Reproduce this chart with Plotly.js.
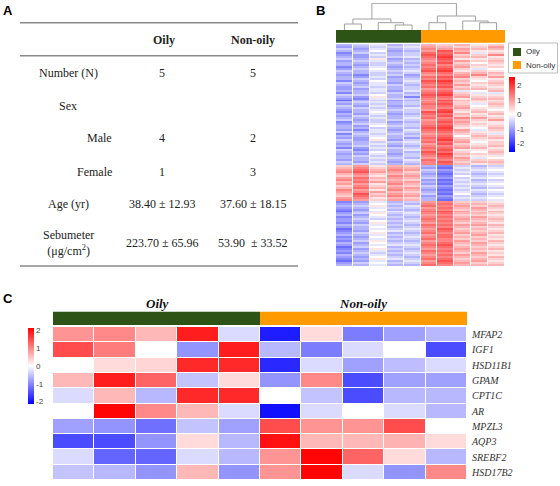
<!DOCTYPE html>
<html><head><meta charset="utf-8">
<script src="https://cdn.plot.ly/plotly-3.0.1.min.js"></script>
<style>html,body{margin:0;padding:0;background:#fff}#chart{width:560px;height:486px}</style>
</head><body><div id="chart"></div>
<script>
// ---------- Panel A: table ----------
const tableHeaders = ["Oily", "Non-oily"];
const tableRowLabels = ["Number (N)", "Sex", "Male", "Female", "Age (yr)", "Sebumeter<br>(μg/cm<sup>2</sup>)"];
const tableOily = ["5", "", "4", "1", "38.40 ± 12.93", "223.70 ± 65.96"];
const tableNonOily = ["5", "", "2", "3", "37.60 ± 18.15", "53.90 \u00a0± 33.52"];

// ---------- Samples / groups ----------
const samples = ["O1", "O2", "O3", "O4", "O5", "N1", "N2", "N3", "N4", "N5"];
const sampleGroup = [0, 0, 0, 0, 0, 1, 1, 1, 1, 1];
const groupNames = ["Oily", "Non-oily"];

// ---------- Panel B: clustered heatmap (levels A=-2 ... Q=+2, step 0.25) ----------
// each sample: [upper block, middle block, lower block]
const sampleO1 = ["FEGFDEFGEF FDEGFEFFDG FEEFDGFECF EGFEDFEFGD EFFEGDFEGF EFDGFEFFEGF",
                  "KLMNLKMNLM KLNMLKMN",
                  "DEFEDCEFDE EDFECDEFDE DFECDEDFEDCEF"];
const sampleO2 = ["GFEFGEEFGF EFGFFDEGFE FGEFFGEDFG FEGFFEGFEF GEFDFGFEEF FGEDFEGFFEG",
                  "MNOPNMONOM NOMNPONM",
                  "EFGFEFGEFG FEGFFEGFEF GEFGEFGFEFEGF"];
const sampleO3 = ["HGHIGHGJHG GHIHGGHGIH HGHHGIJHGH GHGHIHGHGG HIGHHGHIJG HGHGIHGHGHG",
                  "JKLMKJLKMJ KLJMKLJK",
                  "HIJHIHJIHG IJHIHIJHIH JIHIJHGHIJHIH"];
const sampleO4 = ["FGFEFFGEFG FEFGFGEFFE GFFEGFFGEF FEFGFEFFGE FGFEFGFFEG FEGFFEFGFEF",
                  "LMNMLNMLMN LMNLMNLM",
                  "FGFGFHGFGF GFGFGHFGFG FGHFGFGFGHFGF"];
const sampleO5 = ["GHGFGGHFGF GFGHGEFGHG FGGHFGDGFG GFHGGFGHGF GGFHGFGEGH GFGHFGGFHGF",
                  "KLMKLMLKML KMLKLMKL",
                  "GFHGFGHGFG HGFGHGFGHG FGHGFGHGFGHGF"];
const sampleN1 = ["LMNMOPONMN ONOPNMONPO NOMNOPONMN ONNMPONOMN NOPONMNONO MNONPONMONN",
                  "FEGFEFGEFE GFEFGEFF",
                  "MNOMNONMNO NMONMNOMNO MNONMONMNOMNO"];
const sampleN2 = ["KLMPOPQPOP NOPQONPOQP OPNOPQONPO PONPQOPNOP OPQPONOPQO PNOPOQPONPO",
                  "DCEDCDECDC EDCDCEDC",
                  "NONONPONON ONONPONOON NOPONONONOPON"];
const sampleN3 = ["LKMLNKLJMK LMKJLMNKLK MKLHKLMJLK KLMKJLKNLM LKJMLKIKLM KLMJKLKMLKL",
                  "GHGHGIGHGH GHGHIGHG",
                  "KLMLKMLKLM LKMLKLMKLK MLKLMLKMLKLML"];
const sampleN4 = ["JKLJHKLJKI KJHKLNKJIK JKLIHJKLKJ HIJKLJKMKJ KJIHJKLKJI JKLJIKJHKLJ",
                  "FGHGFGHFGH GFHGFGHG",
                  "KLKMLKLKML KLMKLKLMKL KMLKLKMLKLMKL"];
const sampleN5 = ["KMLJKNJKLK JKIJLKMJKL KJKLHJKLJK LKJIKLJKMJ JKLKJHKLJK KLJKLKJIKLK",
                  "GHIHGHIGHI HGIHGHIH",
                  "JKLKJLKJKL KJLKJKLJKJ LKJKLJKJLKJKL"];
const heatBColumns = [sampleO1, sampleO2, sampleO3, sampleO4, sampleO5,
                      sampleN1, sampleN2, sampleN3, sampleN4, sampleN5];

// Column dendrogram (scipy-like linkage: childA, childB, height)
const linkage = [
  [0, 1, 6], [3, 4, 5], [2, 11, 7.3], [10, 12, 11],
  [5, 6, 7.3], [8, 9, 7.3], [7, 15, 9], [14, 16, 14],
  [13, 17, 26.7]
];

// ---------- Panel C: selected genes ----------
const genes = ["MFAP2", "IGF1", "HSD11B1", "GPAM", "CPT1C", "AR", "MPZL3", "AQP3", "SREBF2", "HSD17B2"];
const geneZ = [
  [0.9, 1.0, 0.6, 1.9, -0.3, -1.9, 0.3, -1.1, -0.8, -0.6],
  [1.5, 1.1, 0.0, -0.9, 1.9, -0.6, -1.1, -0.3, 0.0, -1.5],
  [0.0, 0.3, 0.35, 1.8, 1.8, -1.8, -0.3, -0.8, -0.55, -0.3],
  [0.6, 1.9, 1.3, -0.5, 0.3, -0.9, 1.0, -1.5, -0.8, -0.8],
  [-0.3, 0.6, -0.6, 1.8, 1.8, 0.0, -0.5, -1.5, -0.6, -0.6],
  [0.0, 2.1, 1.0, 0.6, -0.3, -2.0, -0.3, 0.0, -0.3, -0.6],
  [-0.8, -0.9, -1.2, -0.5, -0.8, 1.5, 0.9, 0.9, 1.5, 0.0],
  [-1.5, -1.5, -0.9, 0.3, -0.6, 2.0, 0.6, 0.6, 0.65, 0.3],
  [-0.3, -1.3, -1.3, -0.3, -0.6, 0.9, 2.1, 1.3, 0.3, -0.6],
  [-0.5, -0.6, -0.9, 0.6, -0.9, 0.9, 2.1, -0.3, -0.9, 1.0]
];
const colorTicks = [-2, -1, 0, 1, 2];

// ================= build =================
const W = 560, H = 486;
const X = px => px / W;
const Y = py => 1 - py / H;
const GREEN = "#2d5416", ORANGE = "#ff9a00";
const SERIF = "Liberation Serif, Times New Roman, serif";
const SANS = "Liberation Sans, Arial, sans-serif";
const RWB = [[0, "#0000ff"], [0.5, "#ffffff"], [1, "#ff0000"]];

const LEVELS = "ABCDEFGHIJKLMNOPQR";
const decode = s => s.replace(/\s/g, "").split("").map(c => LEVELS.indexOf(c) * 0.25 - 2);

const zB = [];
for (let b = 0; b < 3; b++) {
  const cols = heatBColumns.map(c => decode(c[b]));
  const n = Math.min(...cols.map(c => c.length));
  for (let r = 0; r < n; r++) zB.push(cols.map(c => c[r]));
}
const idx = samples.map((_, i) => i);
const rowIdx = zB.map((_, i) => i);

// dendrogram coordinates
const nodeX = idx.slice(), nodeH = idx.map(() => 0);
const dx = [], dy = [];
linkage.forEach(([a, b, h]) => {
  dx.push(nodeX[a], nodeX[a], nodeX[b], nodeX[b], null);
  dy.push(nodeH[a], h, h, nodeH[b], null);
  nodeX.push((nodeX[a] + nodeX[b]) / 2);
  nodeH.push(h);
});

const cbCommon = {
  thickness: 6, thicknessmode: "pixels", lenmode: "pixels",
  outlinewidth: 0, ticks: "", xpad: 0, ypad: 0, xanchor: "left", yanchor: "top",
  tickvals: colorTicks, ticktext: colorTicks.map(String),
  tickfont: { family: SANS, size: 8, color: "#444" }
};

const traces = [
  { type: "heatmap", z: zB, x: idx, y: rowIdx, xaxis: "x", yaxis: "y",
    colorscale: RWB, zmin: -2.6, zmax: 2.6, xgap: 1, hoverinfo: "skip",
    colorbar: Object.assign({}, cbCommon, { x: X(509), y: Y(77), len: 75 }) },
  { type: "heatmap", z: [sampleGroup], x: idx, xaxis: "x2", yaxis: "y2",
    colorscale: [[0, GREEN], [1, ORANGE]], zmin: 0, zmax: 1, showscale: false, hoverinfo: "skip" },
  { type: "scatter", mode: "lines", x: dx, y: dy, xaxis: "x3", yaxis: "y3",
    line: { color: "#a0a0a0", width: 1 }, hoverinfo: "skip", showlegend: false },
  { type: "heatmap", z: [sampleGroup], x: idx, xaxis: "x4", yaxis: "y4",
    colorscale: [[0, GREEN], [1, ORANGE]], zmin: 0, zmax: 1, showscale: false, hoverinfo: "skip" },
  { type: "heatmap", z: geneZ, x: idx, y: genes, xaxis: "x5", yaxis: "y5",
    colorscale: RWB, zmin: -2.14, zmax: 2.14, xgap: 1, ygap: 1, hoverinfo: "skip",
    colorbar: Object.assign({}, cbCommon, { x: X(28), y: Y(328), len: 76 }) }
];

const hid = { visible: false, fixedrange: true };
const xB = [X(336), X(505)], xC = [X(53), X(467)];
const layout = {
  width: W, height: H, margin: { l: 0, r: 0, t: 0, b: 0 },
  paper_bgcolor: "#fff", plot_bgcolor: "rgba(0,0,0,0)", showlegend: false,
  xaxis: Object.assign({ domain: xB, range: [-0.5, 9.5], anchor: "y" }, hid),
  yaxis: Object.assign({ domain: [Y(266), Y(44)], range: [zB.length - 0.5, -0.5], anchor: "x" }, hid),
  xaxis2: Object.assign({ domain: xB, range: [-0.5, 9.5], anchor: "y2" }, hid),
  yaxis2: Object.assign({ domain: [Y(42.7), Y(30)], range: [-0.5, 0.5], anchor: "x2" }, hid),
  xaxis3: Object.assign({ domain: xB, range: [-0.5, 9.5], anchor: "y3" }, hid),
  yaxis3: Object.assign({ domain: [Y(30), Y(3)], range: [0, 27], anchor: "x3" }, hid),
  xaxis4: Object.assign({ domain: xC, range: [-0.5, 9.5], anchor: "y4" }, hid),
  yaxis4: Object.assign({ domain: [Y(325), Y(311.5)], range: [-0.5, 0.5], anchor: "x4" }, hid),
  xaxis5: Object.assign({ domain: xC, range: [-0.5, 9.5], anchor: "y5" }, hid),
  yaxis5: { domain: [Y(480), Y(327)], anchor: "x5", side: "right", autorange: "reversed",
    showgrid: false, zeroline: false, showline: false, ticks: "", fixedrange: true,
    ticklabelstandoff: 4,
    tickfont: { family: SERIF, size: 10, color: "#333", style: "italic" } },
  shapes: [], annotations: []
};

const ann = (text, px, py, opts) => layout.annotations.push(Object.assign({
  text, x: X(px), y: Y(py), xref: "paper", yref: "paper", showarrow: false,
  xanchor: "center", yanchor: "middle", borderpad: 0,
  font: { family: SERIF, size: 12, color: "#222" }
}, opts || {}));

// panel letters
const letterFont = { family: SANS, size: 13, color: "#000", weight: "bold" };
ann("<b>A</b>", 8, 10, { font: letterFont });
ann("<b>B</b>", 320, 10, { font: letterFont });
ann("<b>C</b>", 8, 298, { font: letterFont });

// table
const lineCol = "#8a8a8a";
[22.7, 55.7, 266].forEach(py => layout.shapes.push({
  type: "line", xref: "paper", yref: "paper", x0: X(20), x1: X(298), y0: Y(py), y1: Y(py),
  line: { color: lineCol, width: 1.5 }
}));
const colX = [164, 253];
tableHeaders.forEach((h, i) => ann("<b>" + h + "</b>", colX[i], 40));
const rowY = [73, 106, 138, 172, 204, 243];
tableRowLabels.forEach((lab, i) => {
  if (lab === "Male" || lab === "Female") ann(lab, 113, rowY[i], { xanchor: "right" });
  else ann(lab, 68, rowY[i]);
  if (tableOily[i]) ann(tableOily[i], 162, rowY[i]);
  if (tableNonOily[i]) ann(tableNonOily[i], 253, rowY[i]);
});

// panel B legend
layout.shapes.push({ type: "rect", xref: "paper", yref: "paper", x0: X(508.5), x1: X(557.5), y0: Y(73), y1: Y(43),
  line: { color: "#bdbdbd", width: 1 }, fillcolor: "#fff" });
[[GREEN, 52], [ORANGE, 65]].forEach(([c, py], i) => {
  layout.shapes.push({ type: "rect", xref: "paper", yref: "paper", x0: X(513), x1: X(521), y0: Y(py + 4), y1: Y(py - 4),
    line: { width: 0 }, fillcolor: c });
  ann(groupNames[i], 525, py, { xanchor: "left", font: { family: SANS, size: 8, color: "#333" } });
});

// panel C group titles
ann("<b><i>" + groupNames[0] + "</i></b>", 157, 303, { font: { family: SERIF, size: 13, color: "#111" } });
ann("<b><i>" + groupNames[1] + "</i></b>", 363, 303, { font: { family: SERIF, size: 13, color: "#111" } });

Plotly.newPlot("chart", traces, layout, { staticPlot: true, displayModeBar: false });
</script></body></html>
